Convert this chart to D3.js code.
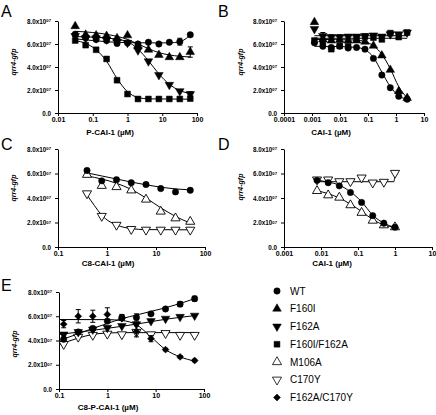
<!DOCTYPE html>
<html><head><meta charset="utf-8">
<script src="https://cdn.jsdelivr.net/npm/d3@7"></script>
<style>
body{margin:0;background:#fff}
svg{display:block}
text{font-family:"Liberation Sans",Arial,sans-serif}
</style>
</head><body>
<svg id="chart" width="436" height="415"></svg>
<script>
// ---------- data (values in units of 10^7) ----------
const Y_TICKS = [0, 2, 4, 6, 8];
const Y_TICK_LABELS = ["0.0", "2.0x10", "4.0x10", "6.0x10", "8.0x10"];
const Y_TICK_EXP = ["", "07", "07", "07", "07"];

// Panel A : P-CAI-1
const X_A = [0.03125,0.0625,0.125,0.25,0.5,1,2,4,8,16,32,64];
const A_WT    = [6.85,6.55,6.4,6.3,6.05,6.1,6.0,6.15,6.0,6.15,6.2,6.8];
const A_WT_ERR= [0,0,0,0,0,0,0,0,0,0,0.3,0];
const A_F160I = [7.55,6.8,6.75,6.7,6.5,6.75,5.85,5.5,5.05,4.85,4.85,5.3];
const A_F160I_ERR=[0,0,0,0,0,0,0,0,0,0,0,0.45];
const A_F162A = [6.7,6.5,6.5,6.4,6.2,6.1,5.45,4.5,3.3,2.45,1.9,1.65];
const A_F162A_ERR=[0,0,0,0,0,0,0,0,0,0,0,0.2];
const A_DBL   = [6.3,5.9,5.5,4.7,2.85,1.65,1.22,1.22,1.22,1.22,1.22,1.25];
const A_WT_FIT    = [[0.03125,6.45],[0.1,6.3],[0.3,6.18],[1,6.12],[4,6.1],[16,6.1],[32,6.2],[64,6.75]];
const A_F160I_FIT = [[0.03125,7.1],[0.1,7.0],[0.3,6.8],[1,6.4],[2,6.0],[4,5.6],[8,5.25],[16,5.05],[32,4.93],[64,4.88]];
const A_F162A_FIT = [[0.03125,6.65],[0.1,6.6],[0.3,6.5],[1,6.2],[2,5.55],[4,4.55],[8,3.4],[16,2.5],[32,1.95],[64,1.7]];
const A_DBL_FIT   = [[0.03125,6.3],[0.0625,6.05],[0.125,5.5],[0.25,4.5],[0.5,3.0],[1,1.85],[2,1.35],[4,1.23],[64,1.2]];
const A_X_TICKS = [0.01,0.1,1,10,100];
const A_X_LABELS = ["0.01","0.1","1","10","100"];

// Panel B : CAI-1
const X_B = [0.0012207,0.0024414,0.0048828,0.0097656,0.0195313,0.0390625,0.078125,0.15625,0.3125,0.625,1.25,2.5];
const B_WT    = [6.1,5.8,5.7,5.8,5.65,5.7,5.55,4.75,3.3,2.2,1.45,1.2];
const B_F160I = [7.9,6.4,6.3,6.35,6.3,6.3,6.2,5.85,5.0,3.75,1.9,1.3];
const B_F162A = [7.3,6.7,6.6,6.6,6.65,6.65,6.7,6.75,6.65,6.85,6.85,7.0];
const B_F162A_ERR=[0,0.3,0.2,0.2,0.15,0.15,0,0,0,0,0,0];
const B_DBL   = [6.3,6.2,5.55,5.85,5.8,6.5,6.65,6.55,6.4,6.95,6.6,7.0];
const B_WT_FIT    = [[0.0012207,5.8],[0.01,5.78],[0.039,5.7],[0.078,5.5],[0.156,4.85],[0.3125,3.55],[0.625,2.3],[1.25,1.5],[2.5,1.2]];
const B_F160I_FIT = [[0.0012207,6.4],[0.039,6.35],[0.078,6.2],[0.156,5.85],[0.3125,5.1],[0.625,3.85],[1.25,2.3],[2.5,1.3]];
const B_F162A_FIT = [[0.0012207,6.72],[2.5,6.72]];
const B_DBL_FIT   = [[0.0012207,6.5],[2.5,6.5]];
const B_X_TICKS = [0.0001,0.001,0.01,0.1,1,10];
const B_X_LABELS = ["0.0001","0.001","0.01","0.1","1","10"];

// Panel C : C8-CAI-1
const X_C = [0.390625,0.78125,1.5625,3.125,6.25,12.5,25,50];
const C_WT    = [6.25,5.4,5.5,5.25,5.1,4.77,4.5,4.63];
const C_M106A = [5.9,5.0,4.9,4.63,3.88,2.9,2.35,2.07];
const C_C170Y = [4.37,2.53,1.8,1.46,1.4,1.4,1.4,1.4];
const C_WT_FIT    = [[0.390625,6.05],[0.78125,5.8],[1.5625,5.55],[3.125,5.3],[6.25,5.08],[12.5,4.88],[25,4.74],[50,4.66]];
const C_M106A_FIT = [[0.390625,5.8],[0.78125,5.55],[1.5625,5.2],[3.125,4.7],[6.25,4.0],[12.5,3.2],[25,2.5],[50,1.95]];
const C_C170Y_FIT = [[0.390625,4.25],[0.55,3.4],[0.78125,2.6],[1.1,2.1],[1.5625,1.8],[3.125,1.5],[6.25,1.42],[50,1.4]];
const C_X_TICKS = [0.1,1,10,100];
const C_X_LABELS = ["0.1","1","10","100"];

// Panel D : CAI-1
const X_D = [0.0078125,0.015625,0.03125,0.0625,0.125,0.25,0.5,1];
const D_WT    = [5.44,5.25,4.99,4.45,3.64,2.56,1.94,1.62];
const D_M106A = [4.58,4.23,4.04,3.42,2.8,2.16,1.78,1.62];
const D_C170Y = [5.5,5.5,5.36,5.36,5.66,5.25,5.31,6.04];
const D_WT_FIT    = [[0.0078125,5.45],[0.015625,5.3],[0.03125,5.05],[0.0625,4.5],[0.125,3.7],[0.25,2.6],[0.5,1.95],[1,1.6]];
const D_M106A_FIT = [[0.0078125,4.6],[0.015625,4.35],[0.03125,4.0],[0.0625,3.5],[0.125,2.9],[0.25,2.25],[0.5,1.8],[1,1.6]];
const D_C170Y_FIT = [[0.0078125,5.33],[0.93,5.33],[0.97,5.6],[1,6.04]];
const D_X_TICKS = [0.001,0.01,0.1,1,10];
const D_X_LABELS = ["0.001","0.01","0.1","1","10"];

// Panel E : C8-P-CAI-1
const X_E = [0.125,0.25,0.5,1,2,4,8,16,32,64];
const E_WT     = [4.1,4.7,5.0,5.6,5.9,5.9,6.2,6.6,7.0,7.45];
const E_WT_ERR = [0,0,0.15,0,0.25,0.3,0,0,0.2,0.2];
const E_F162A  = [4.5,4.7,4.9,5.05,5.2,5.35,5.6,5.8,5.95,6.05];
const E_C170Y  = [3.7,4.3,4.45,4.55,4.5,4.7,4.5,4.6,4.45,4.45];
const E_DBL    = [5.35,6.0,6.0,6.15,5.8,4.75,4.15,3.25,2.65,2.35];
const E_DBL_ERR= [0.3,0.55,0.5,0.55,0.15,0.45,0.25,0.1,0.1,0.1];
const E_WT_FIT    = [[0.1,4.0],[0.25,4.55],[0.5,5.0],[1,5.4],[2,5.8],[4,6.1],[8,6.4],[16,6.7],[32,7.05],[64,7.45]];
const E_F162A_FIT = [[0.1,4.5],[1,5.0],[4,5.35],[16,5.75],[64,6.05]];
const E_C170Y_FIT = [[0.1,3.65],[0.25,4.2],[0.5,4.5],[1,4.62],[2,4.65],[64,4.65]];
const E_DBL_FIT   = [[0.1,5.73],[1,5.72],[2,5.65],[4,5.3],[8,4.3],[16,3.25],[32,2.65],[64,2.3]];
const E_X_TICKS = [0.1,1,10,100];
const E_X_LABELS = ["0.1","1","10","100"];

const LEGEND_NAMES = ["WT","F160I","F162A","F160I/F162A","M106A","C170Y","F162A/C170Y"];

// ---------- styles ----------
const SHAPES = {
  "WT":          {sym: d3.symbolCircle,   size: 32, rot: 0,   fill: "#000"},
  "F160I":       {sym: d3.symbolTriangle, size: 32, rot: 0,   fill: "#000"},
  "F162A":       {sym: d3.symbolTriangle, size: 32, rot: 180, fill: "#000"},
  "F160I/F162A": {sym: d3.symbolSquare,   size: 34, rot: 0,   fill: "#000"},
  "M106A":       {sym: d3.symbolTriangle, size: 36, rot: 0,   fill: "#fff"},
  "C170Y":       {sym: d3.symbolTriangle, size: 36, rot: 180, fill: "#fff"},
  "F162A/C170Y": {sym: d3.symbolSquare,   size: 24, rot: 45,  fill: "#000"}
};

const svg = d3.select("#chart");

function mk(xs, ys, err, fit, name) {
  return {name, pts: xs.map((x,i)=>({x, y: ys[i], e: err ? err[i] : 0})), fit};
}

const panels = [
  {letter:"A", lx:1, ly:17, xDom:[0.01,100], xr:[58,197], yr:[113,21], ticks:A_X_TICKS, labels:A_X_LABELS,
   title:"P-CAI-1 (µM)", tx:110, ty:134.5, ylx:16, yly:62,
   series:[mk(X_A,A_DBL,null,A_DBL_FIT,"F160I/F162A"), mk(X_A,A_F162A,A_F162A_ERR,A_F162A_FIT,"F162A"),
           mk(X_A,A_F160I,A_F160I_ERR,A_F160I_FIT,"F160I"), mk(X_A,A_WT,A_WT_ERR,A_WT_FIT,"WT")]},
  {letter:"B", lx:218, ly:17, xDom:[0.0001,10], xr:[284,424], yr:[113,21], ticks:B_X_TICKS, labels:B_X_LABELS,
   title:"CAI-1 (µM)", tx:331, ty:134.5, ylx:243, yly:62,
   series:[mk(X_B,B_DBL,null,B_DBL_FIT,"F160I/F162A"), mk(X_B,B_F162A,B_F162A_ERR,B_F162A_FIT,"F162A"),
           mk(X_B,B_F160I,null,B_F160I_FIT,"F160I"), mk(X_B,B_WT,null,B_WT_FIT,"WT")]},
  {letter:"C", lx:1, ly:150, xDom:[0.1,100], xr:[58,205], yr:[247,149], ticks:C_X_TICKS, labels:C_X_LABELS,
   title:"C8-CAI-1 (µM)", tx:108, ty:266, ylx:16, yly:188,
   series:[mk(X_C,C_C170Y,null,C_C170Y_FIT,"C170Y"), mk(X_C,C_M106A,null,C_M106A_FIT,"M106A"),
           mk(X_C,C_WT,null,C_WT_FIT,"WT")]},
  {letter:"D", lx:218, ly:150, xDom:[0.001,10], xr:[284,432], yr:[247,149], ticks:D_X_TICKS, labels:D_X_LABELS,
   title:"CAI-1 (µM)", tx:332, ty:266, ylx:243, yly:187,
   series:[mk(X_D,D_C170Y,null,D_C170Y_FIT,"C170Y"), mk(X_D,D_M106A,null,D_M106A_FIT,"M106A"),
           mk(X_D,D_WT,null,D_WT_FIT,"WT")]},
  {letter:"E", lx:1, ly:291, xDom:[0.1,100], xr:[59,204], yr:[389,292], ticks:E_X_TICKS, labels:E_X_LABELS,
   title:"C8-P-CAI-1 (µM)", tx:108, ty:409.5, ylx:17, yly:344,
   series:[mk(X_E,E_C170Y,null,E_C170Y_FIT,"C170Y"), mk(X_E,E_F162A,null,E_F162A_FIT,"F162A"),
           mk(X_E,E_DBL,E_DBL_ERR,E_DBL_FIT,"F162A/C170Y"), mk(X_E,E_WT,E_WT_ERR,E_WT_FIT,"WT")]}
];

function symPath(name) {
  const s = SHAPES[name];
  return d3.symbol().type(s.sym).size(s.size)();
}

panels.forEach(p => {
  const x = d3.scaleLog().domain(p.xDom).range(p.xr);
  const y = d3.scaleLinear().domain([0,8]).range(p.yr);
  const g = svg.append("g");

  svg.append("text").attr("x", p.lx).attr("y", p.ly).attr("font-size", 16).text(p.letter);

  const ya = g.append("g").attr("transform", `translate(${p.xr[0]},0)`)
    .call(d3.axisLeft(y).tickValues(Y_TICKS).tickSize(3).tickSizeOuter(0).tickPadding(4)
      .tickFormat(()=>""));
  ya.selectAll(".tick text").each(function(d,i){
    const t = d3.select(this);
    t.attr("font-size", 6.3).attr("font-weight","bold").attr("font-family",'"Liberation Sans",Arial,sans-serif');
    t.append("tspan").text(Y_TICK_LABELS[i]);
    if (Y_TICK_EXP[i]) t.append("tspan").attr("font-size",4.2).attr("dy","-0.35em").text(Y_TICK_EXP[i]);
  });

  const xa = g.append("g").attr("transform", `translate(0,${p.yr[0]})`)
    .call(d3.axisBottom(x).tickValues(p.ticks).tickSize(3).tickSizeOuter(0).tickPadding(1)
      .tickFormat((d,i)=>p.labels[i]));
  xa.selectAll(".tick text").attr("font-size", 7).attr("font-weight","bold")
    .attr("font-family",'"Liberation Sans",Arial,sans-serif');
  g.selectAll(".domain, .tick line").attr("stroke","#000").attr("stroke-width",1);

  svg.append("text").attr("x", p.tx).attr("y", p.ty).attr("text-anchor","middle")
    .attr("font-size", 8).attr("font-weight","bold").text(p.title);
  svg.append("text").attr("transform", `translate(${p.ylx},${p.yly}) rotate(-90)`)
    .attr("text-anchor","middle").attr("font-size", 7).attr("font-weight","bold")
    .attr("font-style","italic").text("qrr4-gfp");

  const line = d3.line().x(d=>x(d[0])).y(d=>y(d[1])).curve(d3.curveMonotoneX);

  p.series.forEach(s => {
    g.append("path").attr("d", line(s.fit)).attr("fill","none").attr("stroke","#000").attr("stroke-width",1);
  });
  p.series.forEach(s => {
    const st = SHAPES[s.name];
    s.pts.filter(d=>d.e>0).forEach(d => {
      const cx = x(d.x), y1 = y(d.y+d.e), y2 = y(d.y-d.e);
      g.append("path").attr("d", `M${cx},${y1}V${y2}M${cx-2.5},${y1}H${cx+2.5}M${cx-2.5},${y2}H${cx+2.5}`)
        .attr("stroke","#000").attr("stroke-width",1).attr("fill","none");
    });
    g.selectAll(null).data(s.pts).enter().append("path")
      .attr("d", symPath(s.name))
      .attr("transform", d=>`translate(${x(d.x)},${y(d.y)}) rotate(${st.rot})`)
      .attr("fill", st.fill).attr("stroke","#000").attr("stroke-width", st.fill==="#fff"?0.9:0.5);
  });
});

// legend
const legendY = d3.scalePoint().domain(LEGEND_NAMES).range([291, 397.5]);
const lg = svg.append("g");
LEGEND_NAMES.forEach(n => {
  const st = SHAPES[n];
  lg.append("path").attr("d", symPath(n))
    .attr("transform", `translate(277,${legendY(n)}) rotate(${st.rot})`)
    .attr("fill", st.fill).attr("stroke","#000").attr("stroke-width", st.fill==="#fff"?0.8:0.5);
  lg.append("text").attr("x", 290).attr("y", legendY(n)).attr("dy","0.36em")
    .attr("font-size", 10).text(n);
});
</script>
</body></html>
